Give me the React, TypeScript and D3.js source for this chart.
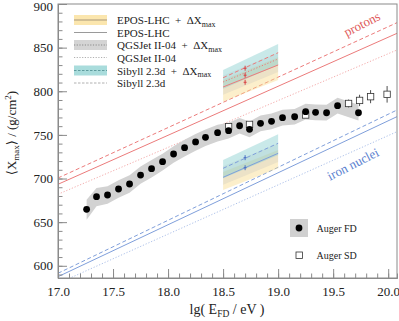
import * as d3 from "d3";
import { useEffect, useRef } from "react";

const mainWidth = 399;
const mainHeight = 321;
const frame = { left: 58, right: 397, top: 4, bottom: 278 };
const FONT = "'Liberation Serif', 'DejaVu Serif', serif";

// Auger FD points (lg E, <Xmax>, systematic up / down)
const fdEnergy = [17.26, 17.35, 17.45, 17.55, 17.65, 17.75, 17.85, 17.95, 18.05, 18.15, 18.25, 18.34, 18.45, 18.55, 18.65, 18.74, 18.84, 18.94, 19.04, 19.15, 19.25, 19.34, 19.44, 19.54, 19.73];
const fdXmax = [664.7, 679.2, 681.1, 688.0, 693.7, 703.9, 711.3, 719.3, 728.1, 735.3, 741.9, 747.2, 752.5, 754.8, 760.5, 756.4, 763.3, 765.6, 769.7, 770.8, 776.6, 775.9, 775.4, 783.5, 775.4];
const fdSysUp = [11, 10, 10, 10, 10, 10, 10, 9, 9, 9, 9, 9, 9, 9, 9, 9, 9, 9, 9, 9, 9, 9, 9, 9, 9];
const fdSysDown = [12, 11, 10, 10, 10, 10, 10, 10, 10, 10, 10, 10, 10, 9, 9, 9, 9, 9, 9, 9, 9, 9, 9, 9, 9];

// Auger SD points
const sdEnergy = [18.55, 18.74, 19.25, 19.64, 19.74, 19.84, 19.99];
const sdXmax = [759.5, 762.0, 772.8, 786.0, 789.5, 793.8, 796.5];
const sdErr = [2, 2, 2.5, 4.5, 6.5, 7.5, 9.5];

// model predictions, values at the two ends of the frame
const modelEnergy = [17.0, 20.08];
const protonSibyll = [700.6, 878.6];
const protonEpos = [693.4, 866.4];
const protonQgs = [682.0, 847.3];
const ironSibyll = [591.4, 778.5];
const ironEpos = [587.5, 770.9];
const ironQgs = [579.8, 753.7];

// the two small Delta Xmax illustrations
const insetEnergy = [18.5, 19.0];
const markEnergy = 18.7;
const pSibHi = [824.4, 854.1];
const pSibLo = [803.0, 830.0];
const pQgsHi = [818.0, 844.0];
const pQgsLo = [796.0, 822.0];
const pEpoHi = [813.0, 839.0];
const pEpoLo = [788.0, 813.0];
const pSibLine = [815.5, 844.2];
const pQgsLine = [810.6, 837.0];
const pEpoLine = [804.9, 830.1];
const pMarks = [826.4, 818.4, 810.3];
const feSibHi = [721.2, 750.7];
const feSibLo = [700.3, 726.9];
const feQgsHi = [714.0, 740.0];
const feQgsLo = [693.0, 719.0];
const feEpoHi = [707.5, 732.7];
const feEpoLo = [686.8, 711.7];
const feSibLine = [711.7, 740.4];
const feEpoLine = [701.4, 728.9];
const feMarks = [723.9, 712.4];

const xTicks = [17.0, 17.5, 18.0, 18.5, 19.0, 19.5, 20.0];
const yTicks = [600, 650, 700, 750, 800, 850, 900];

const legendLabels = ["EPOS-LHC  +  ΔX", "EPOS-LHC", "QGSJet II-04  +  ΔX", "QGSJet II-04", "Sibyll 2.3d  +  ΔX", "Sibyll 2.3d"];

const red = "#ec7b7b";
const redLight = "#f4abab";
const blue = "#7f9fdb";
const blueLight = "#adc1ea";
const yellow = "#f9dc8c";
const teal = "#88cfcf";
const grey = "#bdbdbd";

const App = () => {
  const svgRef = useRef(null);

  useEffect(() => {
    const svg = d3.select(svgRef.current);
    svg.selectAll("*").remove();

    const x = d3.scaleLinear().domain([17.0, 20.08]).range([frame.left, frame.right]);
    const y = d3.scaleLinear().domain([586, 900]).range([frame.bottom, frame.top]);

    svg
      .append("defs")
      .append("clipPath")
      .attr("id", "plot-clip")
      .append("rect")
      .attr("x", frame.left)
      .attr("y", frame.top)
      .attr("width", frame.right - frame.left)
      .attr("height", frame.bottom - frame.top);

    const plot = svg.append("g").attr("clip-path", "url(#plot-clip)");

    const line = d3.line();
    const drawModel = (energies, vals, color, dash, width = 1) => {
      plot
        .append("path")
        .attr("d", line(energies.map((e, i) => [x(e), y(vals[i])])))
        .attr("fill", "none")
        .attr("stroke", color)
        .attr("stroke-width", width)
        .attr("stroke-dasharray", dash);
    };

    // proton and iron lines
    drawModel(modelEnergy, protonSibyll, red, "4,2.5");
    drawModel(modelEnergy, protonEpos, red, null);
    drawModel(modelEnergy, protonQgs, redLight, "1.2,1.8");
    drawModel(modelEnergy, ironSibyll, blue, "4,2.5");
    drawModel(modelEnergy, ironEpos, blue, null);
    drawModel(modelEnergy, ironQgs, blueLight, "1.2,1.8");

    // inset bands
    const band = (lo, hi, color, opacity) => {
      const area = d3
        .area()
        .x((d) => x(d))
        .y0((d, i) => y(lo[i]))
        .y1((d, i) => y(hi[i]));
      plot.append("path").attr("d", area(insetEnergy)).attr("fill", color).attr("fill-opacity", opacity);
    };
    band(pEpoLo, pEpoHi, yellow, 0.45);
    band(pQgsLo, pQgsHi, grey, 0.25);
    band(pSibLo, pSibHi, teal, 0.45);
    band(feEpoLo, feEpoHi, yellow, 0.45);
    band(feQgsLo, feQgsHi, grey, 0.25);
    band(feSibLo, feSibHi, teal, 0.45);

    drawModel(insetEnergy, pSibLine, red, "4,2.5");
    drawModel(insetEnergy, pQgsLine, red, "1.2,1.8");
    drawModel(insetEnergy, pEpoLine, red, null);
    drawModel(insetEnergy, feSibLine, blue, "4,2.5");
    drawModel(insetEnergy, feEpoLine, blue, null);

    const marks = (vals, color) => {
      vals.forEach((v) => {
        const g = plot.append("g").attr("stroke", color).attr("stroke-width", 1);
        g.append("line").attr("x1", x(markEnergy)).attr("x2", x(markEnergy)).attr("y1", y(v) - 2.5).attr("y2", y(v) + 2.5);
        g.append("line").attr("x1", x(markEnergy) - 1.5).attr("x2", x(markEnergy) + 1.5).attr("y1", y(v)).attr("y2", y(v));
      });
    };
    marks(pMarks, "#d94040");
    marks(feMarks, "#4a6fc4");

    // FD systematic band
    const fdArea = d3
      .area()
      .x((d) => x(d))
      .y0((d, i) => y(fdXmax[i] - fdSysDown[i]))
      .y1((d, i) => y(fdXmax[i] + fdSysUp[i]));
    plot.append("path").attr("d", fdArea(fdEnergy)).attr("fill", "#d2d2d2");

    // SD points
    sdEnergy.forEach((e, i) => {
      plot
        .append("line")
        .attr("x1", x(e))
        .attr("x2", x(e))
        .attr("y1", y(sdXmax[i] - sdErr[i]))
        .attr("y2", y(sdXmax[i] + sdErr[i]))
        .attr("stroke", "#222")
        .attr("stroke-width", 0.8);
      plot
        .append("rect")
        .attr("x", x(e) - 3.2)
        .attr("y", y(sdXmax[i]) - 3.2)
        .attr("width", 6.4)
        .attr("height", 6.4)
        .attr("fill", "#fff")
        .attr("stroke", "#333")
        .attr("stroke-width", 0.8);
    });

    // FD points
    plot
      .selectAll(".fd")
      .data(fdEnergy)
      .join("circle")
      .attr("class", "fd")
      .attr("cx", (d) => x(d))
      .attr("cy", (d, i) => y(fdXmax[i]))
      .attr("r", 3.4)
      .attr("fill", "#000");

    // frame
    svg
      .append("rect")
      .attr("x", frame.left)
      .attr("y", frame.top)
      .attr("width", frame.right - frame.left)
      .attr("height", frame.bottom - frame.top)
      .attr("fill", "none")
      .attr("stroke", "#8a8a8a")
      .attr("stroke-width", 1);

    // axes, ticks pointing inwards
    const styleAxis = (g) => {
      g.select(".domain").attr("stroke", "#8a8a8a");
      g.selectAll(".tick line").attr("stroke", "#8a8a8a");
      g.selectAll("text").attr("font-family", FONT).attr("font-size", 13).attr("fill", "#222");
    };

    svg
      .append("g")
      .attr("transform", `translate(0, ${frame.bottom})`)
      .call(d3.axisBottom(x).tickValues(d3.range(170, 201).map((d) => d / 10)).tickSize(-4.5).tickFormat(() => ""))
      .call(styleAxis);
    svg
      .append("g")
      .attr("transform", `translate(0, ${frame.bottom})`)
      .call(d3.axisBottom(x).tickValues(xTicks).tickSize(-9).tickSizeOuter(0).tickPadding(9).tickFormat(d3.format(".1f")))
      .call(styleAxis);

    svg
      .append("g")
      .attr("transform", `translate(${frame.left}, 0)`)
      .call(d3.axisLeft(y).tickValues(d3.range(590, 901, 10)).tickSize(-4.5).tickFormat(() => ""))
      .call(styleAxis);
    svg
      .append("g")
      .attr("transform", `translate(${frame.left}, 0)`)
      .call(d3.axisLeft(y).tickValues(yTicks).tickSize(-9).tickSizeOuter(0).tickPadding(5))
      .call(styleAxis)
      .selectAll("text")
      .attr("dy", (d) => (d === 900 ? "0.5em" : "0.32em"));

    // axis titles
    const yTitle = svg
      .append("text")
      .attr("transform", `translate(15.5, 133) rotate(-90)`)
      .attr("text-anchor", "middle")
      .attr("font-family", FONT)
      .attr("font-size", 13)
      .attr("fill", "#222");
    yTitle.append("tspan").text("⟨X");
    yTitle.append("tspan").attr("font-size", 9).attr("dy", 3).text("max");
    yTitle.append("tspan").attr("dy", -3).text("⟩ / (g/cm");
    yTitle.append("tspan").attr("font-size", 9).attr("dy", -5).text("2");
    yTitle.append("tspan").attr("dy", 5).text(")");

    const xTitle = svg
      .append("text")
      .attr("x", 227)
      .attr("y", 313.5)
      .attr("text-anchor", "middle")
      .attr("font-family", FONT)
      .attr("font-size", 14)
      .attr("fill", "#222")
      .style("white-space", "pre");
    xTitle.append("tspan").text("lg( E");
    xTitle.append("tspan").attr("font-size", 9.5).attr("dy", 3).text("FD");
    xTitle.append("tspan").attr("dy", -3).text(" / eV )");

    // model labels
    svg
      .append("text")
      .attr("transform", "translate(364, 28) rotate(-27)")
      .attr("text-anchor", "middle")
      .attr("font-family", FONT)
      .attr("font-size", 13)
      .attr("fill", "#e05a5a")
      .text("protons");
    svg
      .append("text")
      .attr("transform", "translate(355, 168) rotate(-27)")
      .attr("text-anchor", "middle")
      .attr("font-family", FONT)
      .attr("font-size", 13)
      .attr("fill", "#5b7fcf")
      .text("iron nuclei");

    // model legend
    const legend = svg.append("g").attr("transform", "translate(74, 0)");
    const rowY = [20, 32.5, 45, 57.5, 70.5, 83];
    const swatches = [
      { fill: "#fbe6ae", stroke: "#a8977a", dash: null },
      { fill: null, stroke: "#9a9a9a", dash: null },
      { fill: "#d4d4d4", stroke: "#8a8a8a", dash: "1.2,1.5" },
      { fill: null, stroke: "#b0b0b0", dash: "1.2,1.5" },
      { fill: "#a9dcdc", stroke: "#5f9c9e", dash: "2.5,1.5" },
      { fill: null, stroke: "#b0b0b0", dash: "2.5,1.5" },
    ];
    legendLabels.forEach((label, i) => {
      const sw = swatches[i];
      if (sw.fill) {
        legend.append("rect").attr("x", 0).attr("y", rowY[i] - 5).attr("width", 33).attr("height", 10).attr("fill", sw.fill);
      }
      legend
        .append("line")
        .attr("x1", 0)
        .attr("x2", 33)
        .attr("y1", rowY[i])
        .attr("y2", rowY[i])
        .attr("stroke", sw.stroke)
        .attr("stroke-width", 1)
        .attr("stroke-dasharray", sw.dash);
      const t = legend
        .append("text")
        .attr("x", 43)
        .attr("y", rowY[i] + 4)
        .attr("font-family", FONT)
        .attr("font-size", 11)
        .attr("fill", "#222")
        .style("white-space", "pre");
      t.append("tspan").text(label);
      if (label.endsWith("ΔX")) {
        t.append("tspan").attr("font-size", 8).attr("dy", 2.5).text("max");
      }
    });

    // data legend
    const dl = svg.append("g");
    dl.append("rect").attr("x", 290).attr("y", 219).attr("width", 18).attr("height", 18).attr("fill", "#d0d0d0");
    dl.append("circle").attr("cx", 299).attr("cy", 228).attr("r", 3.4).attr("fill", "#000");
    dl.append("rect").attr("x", 296).attr("y", 252).attr("width", 6.4).attr("height", 6.4).attr("fill", "#fff").attr("stroke", "#333").attr("stroke-width", 0.8);
    dl.append("text").attr("x", 316.5).attr("y", 231.5).attr("font-family", FONT).attr("font-size", 10).attr("fill", "#222").text("Auger FD");
    dl.append("text").attr("x", 316.5).attr("y", 258.5).attr("font-family", FONT).attr("font-size", 10).attr("fill", "#222").text("Auger SD");
  }, []);

  return (
    <svg
      ref={svgRef}
      width={mainWidth}
      height={mainHeight}
      style={{ position: "absolute", left: 0, top: 0, background: "#fff" }}
    />
  );
};

export default App;
